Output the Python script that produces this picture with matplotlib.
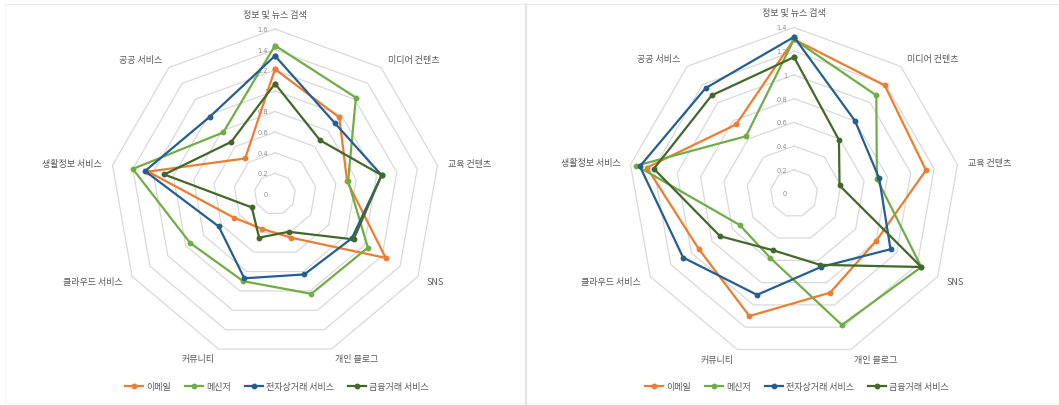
import numpy as np
import matplotlib
matplotlib.use("Agg")
import matplotlib.pyplot as plt
from matplotlib.lines import Line2D

plt.rcParams['font.family'] = ['Noto Sans CJK KR', 'DejaVu Sans']

categories = ["정보 및 뉴스 검색", "미디어 컨텐츠", "교육 컨텐츠", "SNS", "개인 블로그",
              "커뮤니티", "클라우드 서비스", "생활정보 서비스", "공공 서비스"]
series_names = ["이메일", "메신저", "전자상거래 서비스", "금융거래 서비스"]

# Left chart values
left_email = [1.21, 0.97, 0.71, 1.24, 0.45, 0.36, 0.46, 1.25, 0.45]
left_messenger = [1.44, 1.22, 0.72, 1.04, 1.03, 0.90, 0.95, 1.40, 0.78]
left_ecommerce = [1.34, 0.90, 1.05, 0.86, 0.83, 0.87, 0.63, 1.28, 0.98]
left_finance = [1.07, 0.68, 1.05, 0.88, 0.39, 0.45, 0.26, 1.09, 0.66]
left_ticks = [0, 0.2, 0.4, 0.6, 0.8, 1.0, 1.2, 1.4, 1.6]

# Right chart values
right_email = [1.30, 1.19, 1.13, 0.80, 0.89, 1.10, 0.93, 1.26, 0.76]
right_messenger = [1.30, 1.08, 0.71, 1.24, 1.18, 0.58, 0.53, 1.35, 0.63]
right_ecommerce = [1.32, 0.80, 0.73, 0.94, 0.66, 0.91, 1.08, 1.32, 1.16]
right_finance = [1.15, 0.59, 0.39, 1.24, 0.64, 0.51, 0.72, 1.20, 1.08]
right_ticks = [0, 0.2, 0.4, 0.6, 0.8, 1.0, 1.2, 1.4]

colors = ["#ED7D31", "#70AD47", "#255E91", "#43682B"]

W, H = 1059, 406
fig = plt.figure(figsize=(W / 100, H / 100), dpi=100)
fig.patch.set_facecolor("white")


def fig_line(x0, y0, x1, y1, color, lw):
    fig.add_artist(Line2D([x0 / W, x1 / W], [1 - y0 / H, 1 - y1 / H],
                          transform=fig.transFigure, color=color, lw=lw))


# faint panel frames
fig_line(5, 5, 1059, 5, "#ededed", 0.8)
fig_line(5, 5, 5, 404, "#f4f4f4", 0.8)
fig_line(5, 404, 1059, 404, "#f4f4f4", 0.8)
fig_line(525.5, 5, 525.5, 406, "#e4e4e4", 1.6)


def radar(cx, cy, R, ticks, data):
    ax = fig.add_axes([(cx - R) / W, (H - cy - R) / H, 2 * R / W, 2 * R / H],
                      projection="polar")
    ax.set_theta_offset(np.pi / 2)
    ax.set_theta_direction(-1)
    rmax = ticks[-1]
    ax.set_ylim(0, rmax)
    ax.grid(False)
    ax.spines["polar"].set_visible(False)
    ax.patch.set_visible(False)
    ax.set_xticks([])
    ax.set_yticks([])
    n = len(categories)
    ang = np.arange(n) * 2 * np.pi / n
    angc = np.append(ang, ang[0])
    for lv in ticks[1:]:
        ax.plot(angc, [lv] * (n + 1), color="#d9d9d9", lw=0.9, zorder=1, clip_on=False)
    for lv in ticks:
        ax.annotate(f"{lv:g}", xy=(0, lv), xytext=(-5, 0), textcoords="offset points",
                    ha="right", va="center", fontsize=4.8, color="#8c8c8c",
                    family=["DejaVu Sans"])
    for a, lab in zip(ang, categories):
        s, c = np.sin(a), np.cos(a)
        off = 7.5
        if abs(s) < 0.1:
            ha = "center"
        elif s > 0:
            ha = "left"
        else:
            ha = "right"
        va = "bottom" if c > 0.9 else "center"
        ax.annotate(lab, xy=(a, rmax), xytext=(off * s, off * c),
                    textcoords="offset points", ha=ha, va=va, fontsize=6.5,
                    color="#595959", annotation_clip=False)
    for vals, col in zip(data, colors):
        v = list(vals) + [vals[0]]
        ax.plot(angc, v, color=col, lw=1.6, marker="o", markersize=3.2, zorder=3,
                clip_on=False)
    return ax


radar(275, 195, 165, left_ticks, [left_email, left_messenger, left_ecommerce, left_finance])
radar(794, 194.5, 166, right_ticks, [right_email, right_messenger, right_ecommerce, right_finance])

handles = [Line2D([0], [0], color=c, lw=1.6, marker="o", markersize=3.2) for c in colors]
for cx in (277, 797):
    fig.legend(handles, series_names, loc="center", bbox_to_anchor=(cx / W, 1 - 388 / H),
               ncol=4, frameon=False, fontsize=6.5, handlelength=2.0,
               handletextpad=0.3, columnspacing=1.6, labelcolor="#595959")

fig.savefig("out.png", dpi=100, facecolor="white")
